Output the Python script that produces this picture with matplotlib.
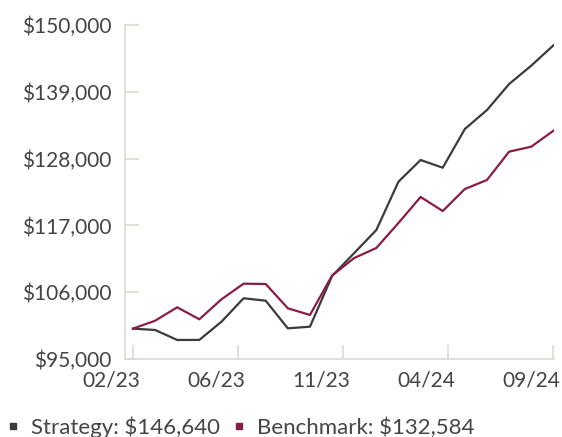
import matplotlib
matplotlib.use('Agg')
import matplotlib.pyplot as plt
import matplotlib.transforms as mtrans
from matplotlib.lines import Line2D

months = ['02/23', '03/23', '04/23', '05/23', '06/23', '07/23', '08/23', '09/23', '10/23', '11/23',
          '12/23', '01/24', '02/24', '03/24', '04/24', '05/24', '06/24', '07/24', '08/24', '09/24']
strategy = [100000, 99780, 98130, 98140, 101140, 105000, 104600, 100050, 100320, 108670,
            112450, 116240, 124200, 127770, 126500, 132870, 136000, 140280, 143300, 146640]
benchmark = [100000, 101300, 103510, 101540, 104830, 107400, 107350, 103350, 102250, 108750,
             111630, 113280, 117400, 121680, 119370, 122990, 124480, 129140, 129960, 132584]
xtick_labels = ['02/23', '06/23', '11/23', '04/24', '09/24']
ytick_values = [95000, 106000, 117000, 128000, 139000, 150000]

dark = '#3b3b3b'
red = '#8b1c42'
grey = '#dcdcd4'
text_col = '#444444'

plt.rcParams['font.family'] = ['Lato', 'DejaVu Sans']

fig = plt.figure(figsize=(5.62, 4.37), dpi=100)
ax = fig.add_axes([0.2224, 0.1785, 0.7634, 0.7643])

x = list(range(len(months)))
ax.plot(x, strategy, color=dark, lw=1.6)
ax.plot(x, benchmark, color=red, lw=1.6)

ax.set_xlim(-0.36, 19.03)
ax.set_ylim(95000, 150000)
n = len(months) - 1
ax.set_xticks([n * i / 4 for i in range(5)])
ax.set_xticklabels(xtick_labels)
ax.set_yticks(ytick_values)
ax.set_yticklabels(['${:,.0f}'.format(v) for v in ytick_values])

for s in ['top', 'right']:
    ax.spines[s].set_visible(False)
for s in ['left', 'bottom']:
    ax.spines[s].set_color(grey)
    ax.spines[s].set_linewidth(1.2)
ax.tick_params(direction='in', length=10, width=1.2, color=grey,
               labelcolor=text_col, labelsize=15)
ax.tick_params(axis='y', pad=10)
ax.tick_params(axis='x', pad=8)

# x labels sit about one month left of their tick marks
shift = mtrans.ScaledTranslation(-22 / 100, 0, fig.dpi_scale_trans)
for lab in ax.get_xticklabels():
    lab.set_transform(lab.get_transform() + shift)

handles = [Line2D([], [], ls='none', marker='s', ms=5, color=dark),
           Line2D([], [], ls='none', marker='s', ms=5, color=red)]
labels = ['Strategy: ${:,.0f}'.format(strategy[-1]), 'Benchmark: ${:,.0f}'.format(benchmark[-1])]
fig.legend(handles, labels, loc='center left', bbox_to_anchor=(0.012, 0.022), ncol=2,
           frameon=False, fontsize=16, handlelength=0.55, handletextpad=0.55,
           columnspacing=0.55, labelcolor=text_col, borderpad=0, borderaxespad=0)

fig.savefig('out.png', dpi=100)
